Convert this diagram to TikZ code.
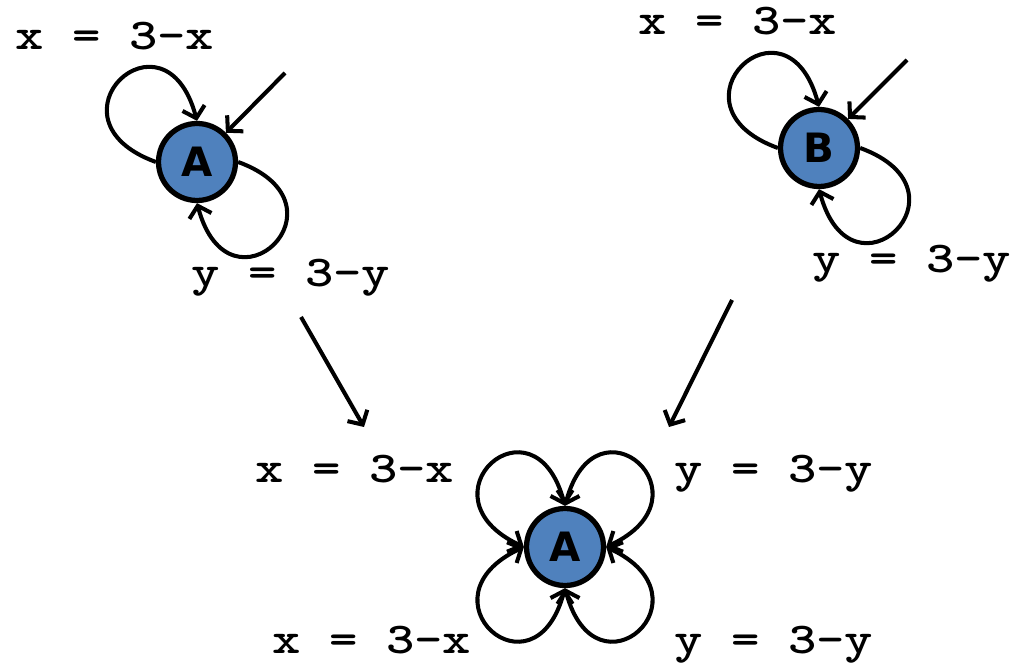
\documentclass[tikz,border=0pt]{standalone}
\usepackage{fontspec}
\newfontfamily\rotfont{lmmonolt10-bold}[Extension=.otf, FakeStretch=1.23]
\newfontfamily\statefont{DejaVu Sans}
\usepackage{tikz}
\usetikzlibrary{
  arrows.meta,
  positioning,
  calc
}
\definecolor{estadoazul}{HTML}{4F81BD}

\begin{document}
\begin{tikzpicture}[
      >={Straight Barb[length=6pt,width=13pt]},
      estado/.style={circle, draw=black, line width=3pt, fill=estadoazul,
        minimum size=1.54cm, inner sep=0pt,
        font=\statefont\bfseries\fontsize{23}{26}\selectfont},
      rotulo/.style={anchor=base, inner sep=0pt,
        font=\rotfont\fontsize{25}{30}\selectfont},
      seta/.style={line width=2.3pt}
  ]
      % Área total da figura
      \useasboundingbox (0,0) rectangle (20.42,13.28);

      % Estados
      \node[estado] (A1) at (3.94,10.04) {A};
      \node[estado] (B1) at (16.38,10.32) {B};
      \node[estado] (A2) at (11.30,2.34) {A};

      % Pontos livres das setas
      \coordinate (iniA) at (5.70,11.82);
      \coordinate (iniB) at (18.14,12.08);
      \coordinate (esqI) at (6.02,6.94);
      \coordinate (esqF) at (7.28,4.74);
      \coordinate (dirI) at (14.64,7.28);
      \coordinate (dirF) at (13.38,4.74);

      % Setas iniciais
      \draw[seta, ->] (iniA) -- (A1);
      \draw[seta, ->] (iniB) -- (B1);

      % Laços do estado A (em cima)
      \draw[seta, ->] (A1.west) .. controls +(160:2.5cm) and +(105:2.5cm) .. (A1.north);
      \draw[seta, ->] (A1.east) .. controls +(-20:2.5cm) and +(-75:2.5cm) .. (A1.south);

      % Laços do estado B
      \draw[seta, ->] (B1.west) .. controls +(160:2.5cm) and +(105:2.5cm) .. (B1.north);
      \draw[seta, ->] (B1.east) .. controls +(-20:2.5cm) and +(-75:2.5cm) .. (B1.south);

      % Setas para o produto
      \draw[seta, ->] (esqI) -- (esqF);
      \draw[seta, ->] (dirI) -- (dirF);

      % Laços do estado A (embaixo)
      \draw[seta, <->] (A2.west) .. controls +(155:2.4cm) and +(105:2.4cm) .. (A2.north);
      \draw[seta, <->] (A2.north) .. controls +(75:2.4cm) and +(25:2.4cm) .. (A2.east);
      \draw[seta, <->] (A2.west) .. controls +(205:2.4cm) and +(255:2.4cm) .. (A2.south);
      \draw[seta, <->] (A2.south) .. controls +(285:2.4cm) and +(335:2.4cm) .. (A2.east);

      % Rótulos
      \node[rotulo] (xA1) at (2.30,12.28) {x = 3-x};
      \node[rotulo] (yA1) at (5.82,7.54) {y = 3-y};
      \node[rotulo] (xB1) at (14.76,12.58) {x = 3-x};
      \node[rotulo] (yB1) at (18.24,7.82) {y = 3-y};
      \node[rotulo] (xA2a) at (7.10,3.64) {x = 3-x};
      \node[rotulo] (yA2a) at (15.48,3.64) {y = 3-y};
      \node[rotulo] (xA2b) at (7.44,0.22) {x = 3-x};
      \node[rotulo] (yA2b) at (15.48,0.22) {y = 3-y};

  \end{tikzpicture}
\end{document}
